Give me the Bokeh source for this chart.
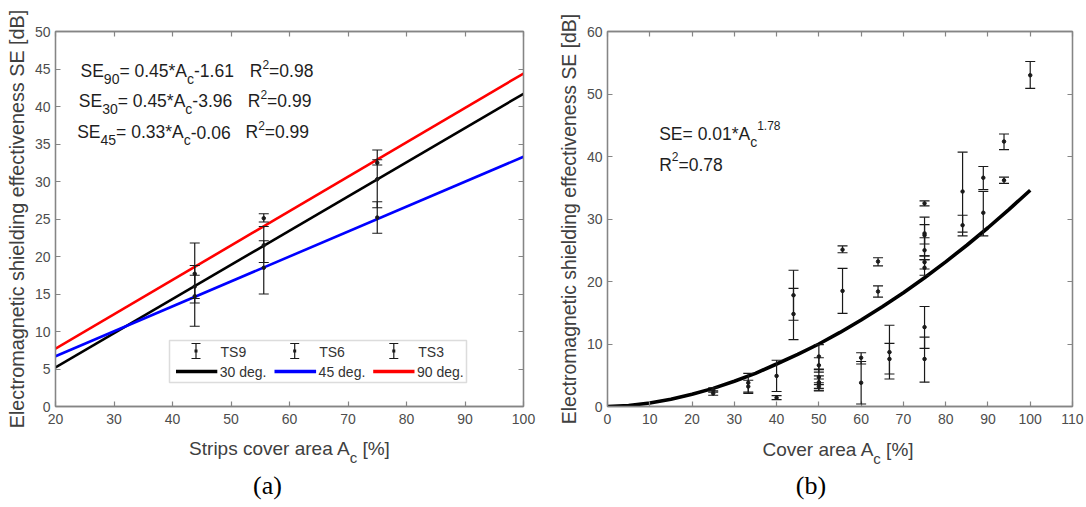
from bokeh.plotting import figure
from bokeh.models import (Range1d, FixedTicker, LinearAxis, Whisker, TeeHead, Div,
                          ColumnDataSource, Label, BoxAnnotation, Arrow, CustomJSTickFormatter)
from bokeh.layouts import row, column
from bokeh.embed import file_html
from bokeh.resources import INLINE

# ---------------- data: panel (a) ----------------
strip_x = [43.8, 43.8, 43.8, 55.6, 55.6, 55.6, 75.0, 75.0, 75.0]
strip_se = [17.7, 14.7, 16.0, 25.1, 18.5, 21.5, 32.5, 30.3, 25.2]
strip_lo = [13.8, 10.7, 14.4, 24.6, 15.0, 19.2, 32.2, 26.5, 23.1]
strip_hi = [21.8, 18.8, 17.5, 25.7, 22.1, 24.0, 32.9, 34.2, 27.3]
fit_a_x = [20, 100]
fit30_y = [5.2, 41.7]
fit45_y = [6.7, 33.3]
fit90_y = [7.7, 44.4]
a_xticks = [20, 30, 40, 50, 60, 70, 80, 90, 100]
a_yticks = [0, 5, 10, 15, 20, 25, 30, 35, 40, 45, 50]

# ---------------- data: panel (b) ----------------
cov_x = [25, 25, 33.3, 33.3, 40, 40, 44, 44, 50, 50, 50, 50, 50, 50, 55.6, 55.6,
         60, 60, 64, 64, 66.7, 66.7, 75, 75, 75, 75, 75, 75, 75, 75, 84, 84,
         88.9, 88.9, 93.8, 93.8, 100]
cov_se = [2.6, 2.1, 3.8, 3.2, 4.9, 1.4, 17.8, 14.8, 8.0, 6.6, 4.7, 3.9, 3.6, 3.2,
          25.1, 18.5, 7.8, 3.8, 23.2, 18.4, 8.7, 7.6, 12.7, 7.6, 32.5, 27.7, 27.4,
          25.0, 23.1, 22.2, 34.4, 29.0, 36.6, 31.0, 42.4, 36.2, 53.0]
cov_lo = [2.3, 1.8, 2.3, 2.1, 2.4, 1.1, 13.8, 10.7, 6.0, 5.5, 3.5, 2.9, 2.5, 2.6,
          24.6, 14.9, 6.8, 0.4, 22.5, 17.5, 4.4, 5.2, 9.3, 3.9, 32.1, 26.0, 24.1,
          23.5, 22.0, 21.0, 27.9, 27.3, 34.7, 27.3, 41.1, 35.7, 50.9]
cov_hi = [3.0, 2.5, 5.3, 4.2, 7.4, 1.75, 21.8, 18.9, 9.9, 7.8, 5.9, 4.9, 4.4, 3.8,
          25.7, 22.1, 8.6, 7.2, 23.8, 19.3, 13.0, 10.1, 16.0, 11.1, 32.9, 29.1, 30.3,
          27.0, 24.1, 23.5, 40.7, 30.6, 38.4, 34.4, 43.6, 36.7, 55.2]
fit_b_x = [0, 5, 10, 15, 20, 25, 30, 35, 40, 45, 50, 55, 60, 65, 70, 75, 80, 85, 90, 95, 100]
fit_b_y = [0, 0.16, 0.55, 1.15, 1.95, 2.9, 4.05, 5.3, 6.8, 8.35, 10.0, 11.85, 13.85,
           15.95, 18.2, 20.6, 23.15, 25.8, 28.6, 31.55, 34.6]
b_xticks = [0, 10, 20, 30, 40, 50, 60, 70, 80, 90, 100, 110]
b_yticks = [0, 10, 20, 30, 40, 50, 60]

SANS = "Liberation Sans"
SERIF = "Liberation Serif"
GRAY = "#858585"
TICKC = "#4d4d4d"
LABC = "#404040"
TXT = "#1e1e1e"

# Arial / Liberation Sans advance widths (per 1000 em)
W = {'S': 667, 'E': 667, 'A': 667, 'R': 722, 'C': 722, 'c': 500, '.': 278, '=': 584,
     '*': 389, '-': 333, ' ': 278}


def tw(s, size):
    return sum(W.get(ch, 556) for ch in s) * size / 1000.0


def rich(p, fx, fy, x, y, parts, color=TXT):
    """parts: (text, size_px, dy_down). Positions in page pixels, converted to frame px."""
    cx = x
    for t, s, d in parts:
        lead = len(t) - len(t.lstrip(" "))
        p.add_layout(Label(x=cx + tw(" " * lead, s) - fx, y=fy - (y + d),
                           x_units="screen", y_units="screen", text=t.lstrip(" "),
                           text_font=SANS, text_font_size=f"{s}px", text_color=color,
                           text_baseline="alphabetic", text_align="left"))
        cx += tw(t, s)


def style(p, xticks, yticks, ylabel, ylabel_size, label_standoff):
    p.grid.visible = False
    p.outline_line_color = GRAY
    p.outline_line_width = 1.3
    p.xaxis.ticker = FixedTicker(ticks=xticks)
    p.yaxis.ticker = FixedTicker(ticks=yticks)
    bottom = p.below[0]
    left = p.left[0]
    top = LinearAxis(ticker=FixedTicker(ticks=xticks),
                     formatter=CustomJSTickFormatter(code="return ''"), major_label_standoff=0)
    right = LinearAxis(ticker=FixedTicker(ticks=yticks),
                       formatter=CustomJSTickFormatter(code="return ''"), major_label_standoff=0)
    p.add_layout(top, "above")
    p.add_layout(right, "right")
    for ax in (bottom, left, top, right):
        ax.axis_line_color = GRAY
        ax.axis_line_width = 1.3
        ax.major_tick_line_color = GRAY
        ax.major_tick_line_width = 1.2
        ax.major_tick_in = 5
        ax.major_tick_out = 0
        ax.minor_tick_line_color = None
        ax.major_label_text_font = SANS
        ax.major_label_text_font_size = "14px"
        ax.major_label_text_color = TICKC
    bottom.major_label_standoff = 7
    left.major_label_standoff = 5
    left.axis_label = ylabel
    left.axis_label_text_font = SANS
    left.axis_label_text_font_size = ylabel_size
    left.axis_label_text_font_style = "normal"
    left.axis_label_text_color = LABC
    left.axis_label_standoff = label_standoff


DIV_H = 71


def caption_div(width, label_html, lab_center, lab_top, cap, cap_center, cap_top):
    html = (
        f'<div style="position:relative;width:{width}px;height:{DIV_H}px;overflow:hidden;">'
        f'<div style="position:absolute;left:{lab_center - 250}px;width:500px;top:{lab_top}px;'
        f'text-align:center;font-family:\'{SANS}\';font-size:19px;line-height:19px;'
        f'color:{LABC};white-space:nowrap;">{label_html}</div>'
        f'<div style="position:absolute;left:{cap_center - 50}px;width:100px;top:{cap_top}px;'
        f'text-align:center;font-family:\'{SERIF}\';font-size:26px;line-height:20px;'
        f'color:#000;white-space:nowrap;">{cap}</div></div>'
    )
    return Div(text=html, width=width, height=DIV_H, margin=0)


SUBC = '<span style="font-size:15px;position:relative;top:8px;">c</span>'

# page layout: plot (a) canvas x 0..554, plot (b) canvas x 554..1086, both y 0..434
# ================= panel (a) =================
FAX, FAY = 55, 406  # frame left / bottom in page px
pa = figure(width=554, height=434, x_range=Range1d(20, 100), y_range=Range1d(0, 50),
            output_backend="svg", toolbar_location=None,
            min_border_left=55, min_border_right=31, min_border_top=31, min_border_bottom=28)
style(pa, a_xticks, a_yticks, "Electromagnetic shielding effectiveness SE [dB]", "19.8px", 4)

pa.line(fit_a_x, fit30_y, line_color="black", line_width=2.6)
pa.line(fit_a_x, fit45_y, line_color="#0000ff", line_width=2.6)
pa.line(fit_a_x, fit90_y, line_color="#ff0000", line_width=2.6)

src_a = ColumnDataSource(dict(x=strip_x, se=strip_se, lo=strip_lo, hi=strip_hi))
pa.add_layout(Whisker(source=src_a, base="x", lower="lo", upper="hi", dimension="height",
                      line_color="#1a1a1a", line_width=1.2, level="overlay",
                      upper_head=TeeHead(size=10, line_color="#1a1a1a", line_width=1.2),
                      lower_head=TeeHead(size=10, line_color="#1a1a1a", line_width=1.2)))
pa.scatter("x", "se", source=src_a, size=3.5, color="#1a1a1a")

rows_a = [
    (80.0, 70.0, "90", "0.45", "-1.61", 249.3, "0.98"),
    (78.3, 100.0, "30", "0.45", "-3.96", 247.3, "0.99"),
    (76.7, 131.5, "45", "0.33", "-0.06", 245.0, "0.99"),
]
for x0, y0, sub, k, b, rx, r2 in rows_a:
    rich(pa, FAX, FAY, x0, y0, [("SE", 17.5, 0), (sub, 14, 8), ("= " + k + "*A", 17.5, 0),
                                ("c", 14, 8), (b, 17.5, 0)])
    rich(pa, FAX, FAY, rx, y0, [("R", 17.5, 0), ("2", 12, -6.5), ("=" + r2, 17.5, 0)])

# legend (drawn by hand, in frame pixels)
pa.add_layout(BoxAnnotation(left=114, right=411, bottom=24, top=66, left_units="screen",
                            right_units="screen", top_units="screen", bottom_units="screen",
                            fill_color="white", fill_alpha=1.0, line_color="#8a8a8a",
                            line_width=1.5, level="overlay"))
for ix, name in [(140.5, "TS9"), (239.2, "TS6"), (338.3, "TS3")]:
    pa.add_layout(Arrow(x_start=ix, y_start=48, x_end=ix, y_end=63, start_units="screen",
                        end_units="screen", line_color="#1a1a1a", line_width=1.2,
                        start=TeeHead(size=9, line_color="#1a1a1a", line_width=1.2),
                        end=TeeHead(size=9, line_color="#1a1a1a", line_width=1.2),
                        level="overlay"))
    pa.add_layout(BoxAnnotation(left=ix - 1.5, right=ix + 1.5, bottom=54, top=57,
                                left_units="screen", right_units="screen", top_units="screen",
                                bottom_units="screen", fill_color="#1a1a1a", fill_alpha=1.0,
                                line_color=None, level="overlay"))
    pa.add_layout(Label(x=ix + 24.5, y=54.5, x_units="screen", y_units="screen", text=name,
                        text_font=SANS, text_font_size="14px", text_color="#333333",
                        text_baseline="middle", level="overlay"))
for x1, x2, col, name in [(120.5, 161.8, "black", "30 deg."), (219.0, 260.6, "#0000ff", "45 deg."),
                          (317.7, 359.0, "#ff0000", "90 deg.")]:
    pa.add_layout(Arrow(x_start=x1, y_start=35, x_end=x2, y_end=35, start_units="screen",
                        end_units="screen", line_color=col, line_width=3.5, start=None, end=None,
                        level="overlay"))
    pa.add_layout(Label(x=x2 + 2.5, y=35, x_units="screen", y_units="screen", text=name,
                        text_font=SANS, text_font_size="14px", text_color="#333333",
                        text_baseline="middle", level="overlay"))

# ================= panel (b) =================
FBX, FBY = 605, 408
pb = figure(width=532, height=434, x_range=Range1d(0, 110), y_range=Range1d(0, 60),
            output_backend="svg", toolbar_location=None,
            min_border_left=51, min_border_right=14, min_border_top=30, min_border_bottom=26)
style(pb, b_xticks, b_yticks, "Electromagnetic shielding effectiveness SE [dB]", "19.4px", 4)

pb.line(fit_b_x, fit_b_y, line_color="black", line_width=3.6)
src_b = ColumnDataSource(dict(x=cov_x, se=cov_se, lo=cov_lo, hi=cov_hi))
pb.add_layout(Whisker(source=src_b, base="x", lower="lo", upper="hi", dimension="height",
                      line_color="#1a1a1a", line_width=1.2, level="overlay",
                      upper_head=TeeHead(size=10, line_color="#1a1a1a", line_width=1.2),
                      lower_head=TeeHead(size=10, line_color="#1a1a1a", line_width=1.2)))
pb.scatter("x", "se", source=src_b, size=3.5, color="#1a1a1a")

rich(pb, FBX, FBY, 656.7, 135, [("SE= 0.01*A", 17.5, 0), ("c", 14, 8), ("1.78", 12, -8)])
rich(pb, FBX, FBY, 656.7, 166, [("R", 17.5, 0), ("2", 12, -8), ("=0.78", 17.5, 0)])

# ================= x-axis labels and captions (below the plots) =================
# div A spans page x 0..554, div B spans 554..1086; both start at page y 434
div_a = caption_div(554, f"Strips cover area A{SUBC} [%]", 289.5, 4.9, "(a)", 267.5, 42)
div_b = caption_div(532, f"Cover area A{SUBC} [%]", 284, 5.9, "(b)", 257, 42)

layout = column(row(pa, pb, spacing=0), row(div_a, div_b, spacing=0), spacing=0)
open("out.html", "w").write(file_html(layout, INLINE))
